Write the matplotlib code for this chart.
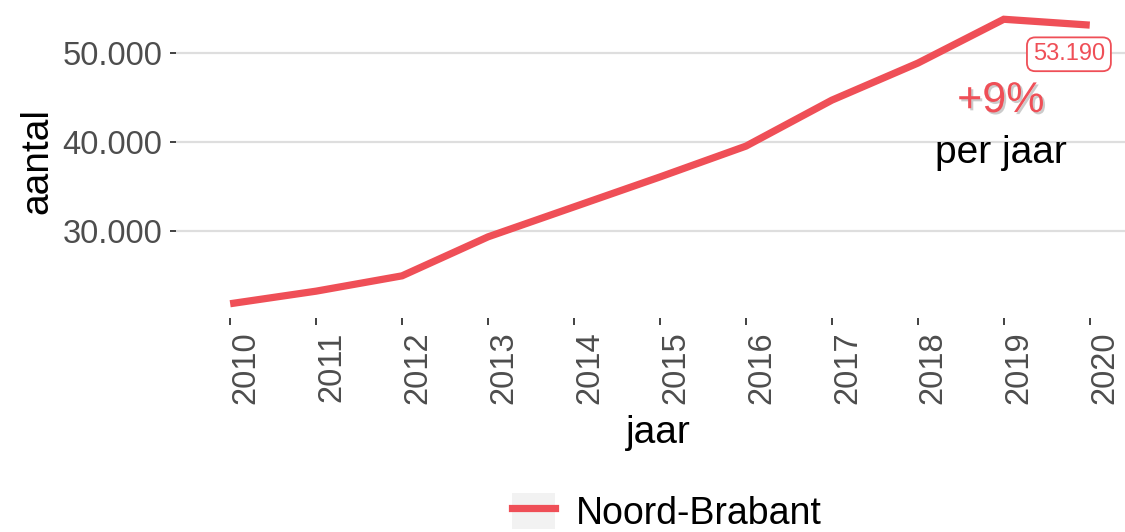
import matplotlib
matplotlib.use("Agg")
import matplotlib.pyplot as plt
import matplotlib.patheffects as pe
from matplotlib.patches import Rectangle
from matplotlib.lines import Line2D
from matplotlib.legend_handler import HandlerTuple
from matplotlib.ticker import FuncFormatter

plt.rcParams['font.family'] = ['Liberation Sans', 'DejaVu Sans']

# data
jaren = [2010, 2011, 2012, 2013, 2014, 2015, 2016, 2017, 2018, 2019, 2020]
aantal = [21740, 23160, 24890, 29290, 32670, 36050, 39530, 44720, 48900, 53850, 53190]
regio = 'Noord-Brabant'
groei_tekst = '+9%'
groei_sub = 'per jaar'

rood = '#EF4F57'
grijs_tekst = '#4D4D4D'

fig = plt.figure(figsize=(11.25, 5.32), dpi=100)
ax = fig.add_axes([176 / 1125, 1 - 318 / 532, 949 / 1125, 313 / 532])

ax.plot(jaren, aantal, color=rood, lw=5.2, solid_capstyle='butt', solid_joinstyle='miter', zorder=3)

ax.set_xlim(2009.37, 2020.41)
ax.set_ylim(20130, 55460)

ax.set_xticks(jaren)
ax.set_xticklabels([str(j) for j in jaren], rotation=90, va='top', ha='left')
ax.set_yticks([30000, 40000, 50000])
ax.yaxis.set_major_formatter(FuncFormatter(lambda v, p: f'{int(v):,}'.replace(',', '.')))

for s in ax.spines.values():
    s.set_visible(False)
ax.grid(axis='y', color='#DEDEDE', lw=1.6, zorder=0)
ax.set_axisbelow(True)

ax.tick_params(axis='y', length=4.3, width=1.3, color='#333333', pad=5.5,
               labelsize=23.5, labelcolor=grijs_tekst)
ax.tick_params(axis='x', length=5, width=1.3, color='#333333', pad=4.5,
               labelsize=23.5, labelcolor=grijs_tekst)

ax.set_xlabel('jaar', fontsize=28, color='black')
ax.set_ylabel('aantal', fontsize=28, color='black')
ax.xaxis.set_label_coords(0.508, -0.31)
ax.yaxis.set_label_coords(-0.127, 0.5)

# end label
ax.annotate(f'{aantal[-1]:,}'.replace(',', '.'), xy=(jaren[-1], aantal[-1]),
            xytext=(-15, -21), textcoords='offset points', ha='center', va='center',
            fontsize=17, color=rood,
            bbox=dict(boxstyle='round,pad=0.25,rounding_size=0.35', fc='white', ec=rood, lw=1.3))

# growth annotation
ax.text(0.869, 0.658, groei_tekst, transform=ax.transAxes, ha='center', va='baseline',
        fontsize=31, color=rood,
        path_effects=[pe.SimplePatchShadow(offset=(1.5, -1.5), shadow_rgbFace='#999999', alpha=0.5),
                      pe.Normal()])
ax.text(0.869, 0.495, groei_sub, transform=ax.transAxes, ha='center', va='baseline',
        fontsize=28, color='black')

# legend with grey key background
sleutel = (Rectangle((0, 0), 1, 1, fc='#F2F2F2', ec='none'),
           Line2D([], [], color=rood, lw=5.2))
fig.legend([sleutel], [regio], handler_map={tuple: HandlerTuple(ndivide=1, pad=0)},
           loc='center', bbox_to_anchor=(667 / 1125, 0.037), frameon=False,
           fontsize=27, handlelength=1.15, handleheight=1.1, handletextpad=0.55,
           borderpad=0)

fig.savefig('out.png', dpi=100)
